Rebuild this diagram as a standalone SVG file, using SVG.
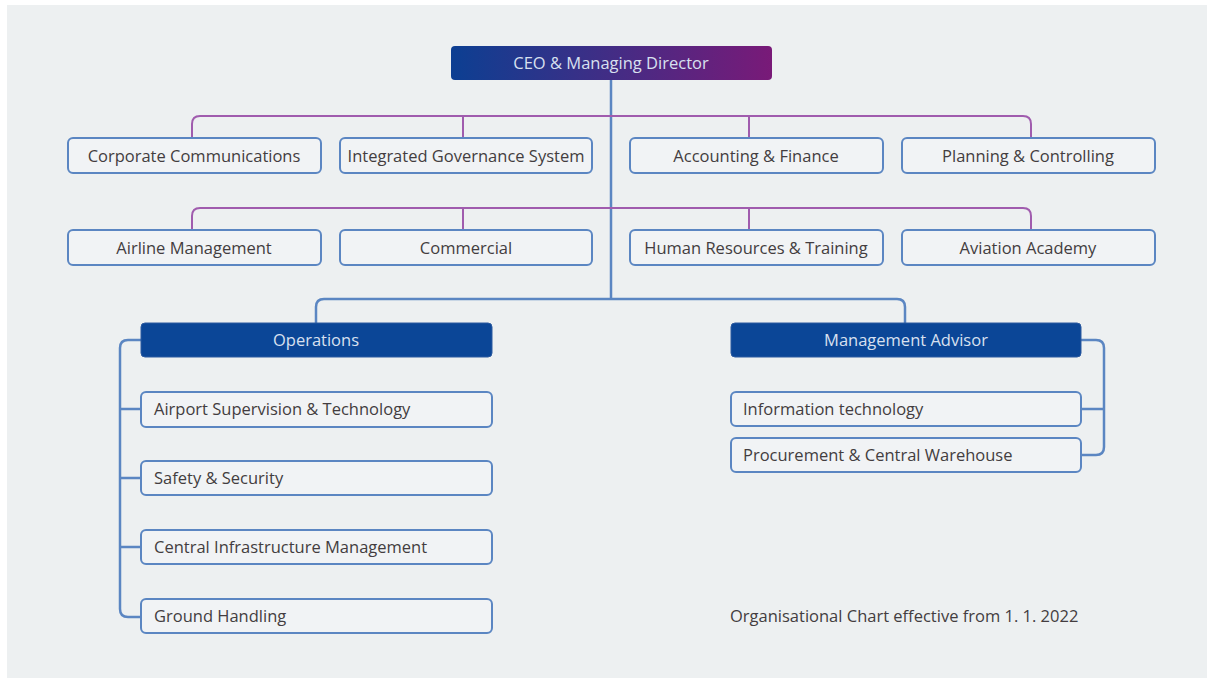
<svg xmlns="http://www.w3.org/2000/svg" width="1208" height="679" viewBox="0 0 1208 679">
  <defs>
    <linearGradient id="ceoGrad" x1="0" y1="0" x2="1" y2="0">
      <stop offset="0" stop-color="#0c3f92"/>
      <stop offset="1" stop-color="#791a78"/>
    </linearGradient>
    <style>
      .box { fill: #f1f3f5; stroke: #5b86c2; stroke-width: 2; }
      .head { fill: #0b4697; stroke: #2c5aa0; stroke-width: 1; }
      .lbl { font-family: "Open Sans", "Liberation Sans", Arial, sans-serif; font-size: 16.5px; fill: #433d40; }
      .lbl-c { text-anchor: middle; }
      .lbl-w { font-family: "Open Sans", "Liberation Sans", Arial, sans-serif; font-size: 16.5px; fill: #d8e0f0; text-anchor: middle; }
      .purple { fill: none; stroke: #a05cae; stroke-width: 2; }
      .blue { fill: none; stroke: #5b86c2; stroke-width: 2.5; }
    </style>
  </defs>

  <!-- page -->
  <rect x="0" y="0" width="1208" height="679" fill="#ffffff"/>
  <rect x="7" y="5" width="1200" height="673" fill="#edf0f1"/>

  <!-- connectors -->
  <g id="connectors">
    <!-- trunk -->
    <line class="blue" x1="611" y1="80" x2="611" y2="299"/>
    <!-- staff row 1 -->
    <path class="purple" d="M192 138 V124 Q192 116 200 116 H1023 Q1031 116 1031 124 V138"/>
    <line class="purple" x1="463" y1="116" x2="463" y2="138"/>
    <line class="purple" x1="749" y1="116" x2="749" y2="138"/>
    <!-- staff row 2 -->
    <path class="purple" d="M192 230 V216 Q192 208 200 208 H1023 Q1031 208 1031 216 V230"/>
    <line class="purple" x1="463" y1="208" x2="463" y2="230"/>
    <line class="purple" x1="749" y1="208" x2="749" y2="230"/>
    <!-- divisions -->
    <path class="blue" d="M316 323 V307 Q316 299 324 299 H897 Q905 299 905 307 V323"/>
    <!-- operations bracket -->
    <path class="blue" d="M141 340 H128 Q120 340 120 348 V609 Q120 617 128 617 H141"/>
    <line class="blue" x1="120" y1="409" x2="141" y2="409"/>
    <line class="blue" x1="120" y1="478" x2="141" y2="478"/>
    <line class="blue" x1="120" y1="547" x2="141" y2="547"/>
    <!-- management advisor bracket -->
    <path class="blue" d="M1081 340 H1096 Q1104 340 1104 348 V447 Q1104 455 1096 455 H1081"/>
    <line class="blue" x1="1081" y1="409" x2="1104" y2="409"/>
  </g>

  <g id="ceo">
    <rect x="451" y="46" width="321" height="34" rx="4" fill="url(#ceoGrad)"/>
    <text class="lbl-w" x="611" y="69">CEO &amp; Managing Director</text>
  </g>

  <g id="corporate-communications">
    <rect class="box" x="68" y="138" width="253" height="35" rx="5"/>
    <text class="lbl lbl-c" x="194" y="162">Corporate Communications</text>
  </g>
  <g id="integrated-governance">
    <rect class="box" x="340" y="138" width="252" height="35" rx="5"/>
    <text class="lbl lbl-c" x="466" y="162">Integrated Governance System</text>
  </g>
  <g id="accounting-finance">
    <rect class="box" x="630" y="138" width="253" height="35" rx="5"/>
    <text class="lbl lbl-c" x="756" y="162">Accounting &amp; Finance</text>
  </g>
  <g id="planning-controlling">
    <rect class="box" x="902" y="138" width="253" height="35" rx="5"/>
    <text class="lbl lbl-c" x="1028" y="162">Planning &amp; Controlling</text>
  </g>

  <g id="airline-management">
    <rect class="box" x="68" y="230" width="253" height="35" rx="5"/>
    <text class="lbl lbl-c" x="194" y="254">Airline Management</text>
  </g>
  <g id="commercial">
    <rect class="box" x="340" y="230" width="252" height="35" rx="5"/>
    <text class="lbl lbl-c" x="466" y="254">Commercial</text>
  </g>
  <g id="human-resources">
    <rect class="box" x="630" y="230" width="253" height="35" rx="5"/>
    <text class="lbl lbl-c" x="756" y="254">Human Resources &amp; Training</text>
  </g>
  <g id="aviation-academy">
    <rect class="box" x="902" y="230" width="253" height="35" rx="5"/>
    <text class="lbl lbl-c" x="1028" y="254">Aviation Academy</text>
  </g>

  <g id="operations">
    <rect class="head" x="141" y="323" width="351" height="34" rx="4"/>
    <text class="lbl-w" x="316" y="346">Operations</text>
  </g>
  <g id="management-advisor">
    <rect class="head" x="731" y="323" width="350" height="34" rx="4"/>
    <text class="lbl-w" x="906" y="346">Management Advisor</text>
  </g>

  <g id="airport-supervision">
    <rect class="box" x="141" y="392" width="351" height="35" rx="5"/>
    <text class="lbl" x="154" y="415">Airport Supervision &amp; Technology</text>
  </g>
  <g id="safety-security">
    <rect class="box" x="141" y="461" width="351" height="34" rx="5"/>
    <text class="lbl" x="154" y="484">Safety &amp; Security</text>
  </g>
  <g id="central-infrastructure">
    <rect class="box" x="141" y="530" width="351" height="34" rx="5"/>
    <text class="lbl" x="154" y="553">Central Infrastructure Management</text>
  </g>
  <g id="ground-handling">
    <rect class="box" x="141" y="599" width="351" height="34" rx="5"/>
    <text class="lbl" x="154" y="622">Ground Handling</text>
  </g>

  <g id="information-technology">
    <rect class="box" x="731" y="392" width="350" height="34" rx="5"/>
    <text class="lbl" x="743" y="415">Information technology</text>
  </g>
  <g id="procurement">
    <rect class="box" x="731" y="438" width="350" height="34" rx="5"/>
    <text class="lbl" x="743" y="461">Procurement &amp; Central Warehouse</text>
  </g>

  <text class="lbl" x="730" y="622">Organisational Chart effective from 1. 1. 2022</text>
</svg>
